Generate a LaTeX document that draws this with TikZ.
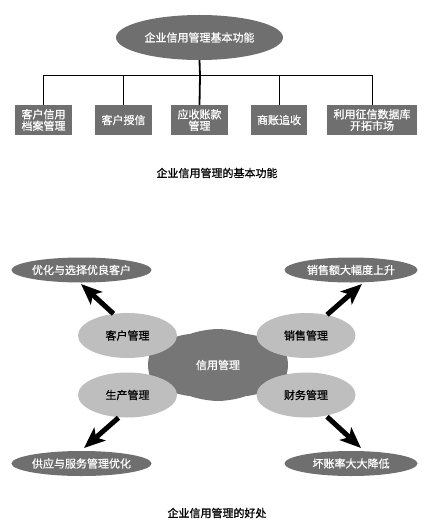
\documentclass[tikz,border=0pt]{standalone}
\usepackage{fontspec}
\newfontfamily\cjk[FakeBold=0.8]{Noto Sans CJK SC}
\usetikzlibrary{shapes.geometric,shapes.symbols,arrows.meta}
\definecolor{darkg}{HTML}{6F6F6F}
\definecolor{lightg}{HTML}{BEBEBE}
\definecolor{cloudg}{HTML}{767676}
\begin{document}
\begin{tikzpicture}[x=1pt,y=-1pt,
  every node/.style={font=\cjk\fontsize{11}{11.5}\selectfont, inner sep=0pt},
  topell/.style={ellipse, fill=darkg, text=white, minimum width=167pt, minimum height=45pt},
  funcbox/.style={rectangle, fill=darkg, text=white, minimum height=30pt, align=center},
  darkell/.style={ellipse, fill=darkg, text=white, minimum width=133pt, minimum height=25pt},
  lightell/.style={ellipse, fill=lightg, text=black, minimum width=99pt, minimum height=45pt},
  caption/.style={text=black},
  tree/.style={draw=black, line width=1pt},
  treebold/.style={draw=black, line width=1.8pt},
  bigarrow/.style={draw=black, line width=5pt, -{Stealth[length=21pt,width=17pt,inset=5pt]}}
]
\useasboundingbox (0,0) rectangle (443,532);
% ---- part 1
\node[topell] (top) at (199.5,37.5) {企业信用管理基本功能};
\node[funcbox, minimum width=57pt] (b1) at (43.5,120) {客户信用\\档案管理};
\node[funcbox, minimum width=57pt] (b2) at (123.5,120) {客户授信};
\node[funcbox, minimum width=57pt] (b3) at (199.5,120) {应收账款\\管理};
\node[funcbox, minimum width=56pt] (b4) at (279,120) {商账追收};
\node[funcbox, minimum width=90pt] (b5) at (372,120) {利用征信数据库\\开拓市场};
\coordinate (j) at (200,75.7);
\draw[tree] (b1.north) |- (j) -| (b5.north);
\draw[treebold] (top.south) -- (j) -- (b3.north);
\draw[treebold] (b2.north) -- (b2.north |- j);
\draw[tree] (b4.north) -- (b4.north |- j);
\node[caption] (cap1) at (217,173) {企业信用管理的基本功能};
% ---- part 2
\node[cloud, cloud puffs=8, cloud puff arc=40, aspect=2, fill=cloudg, text=white,
      minimum width=140pt, minimum height=72pt] (core) at (218,365) {信用管理};
\node[lightell] (cm) at (127.5,335.5) {客户管理};
\node[lightell] (sm) at (306,335.5) {销售管理};
\node[lightell] (pm) at (127.5,395) {生产管理};
\node[lightell] (fm) at (306,395) {财务管理};
\node[darkell] (r1) at (81.5,270) {优化与选择优良客户};
\node[darkell] (r2) at (351,270) {销售额大幅度上升};
\node[darkell] (r3) at (81.5,463.5) {供应与服务管理优化};
\node[darkell] (r4) at (351,463.5) {坏账率大大降低};
\coordinate (t1) at (81,284);
\coordinate (t2) at (362,284);
\coordinate (t3) at (84,448);
\coordinate (t4) at (361,448);
\draw[bigarrow] (cm.north) ++(-14,1) coordinate (s1) (s1) -- (t1);
\draw[bigarrow] (sm.north) ++(21,2) coordinate (s2) (s2) -- (t2);
\draw[bigarrow] (pm.south) ++(-9,0) coordinate (s3) (s3) -- (t3);
\draw[bigarrow] (fm.south) ++(21,-1) coordinate (s4) (s4) -- (t4);
\node[caption] (cap2) at (217,513) {企业信用管理的好处};
\end{tikzpicture}
\end{document}
